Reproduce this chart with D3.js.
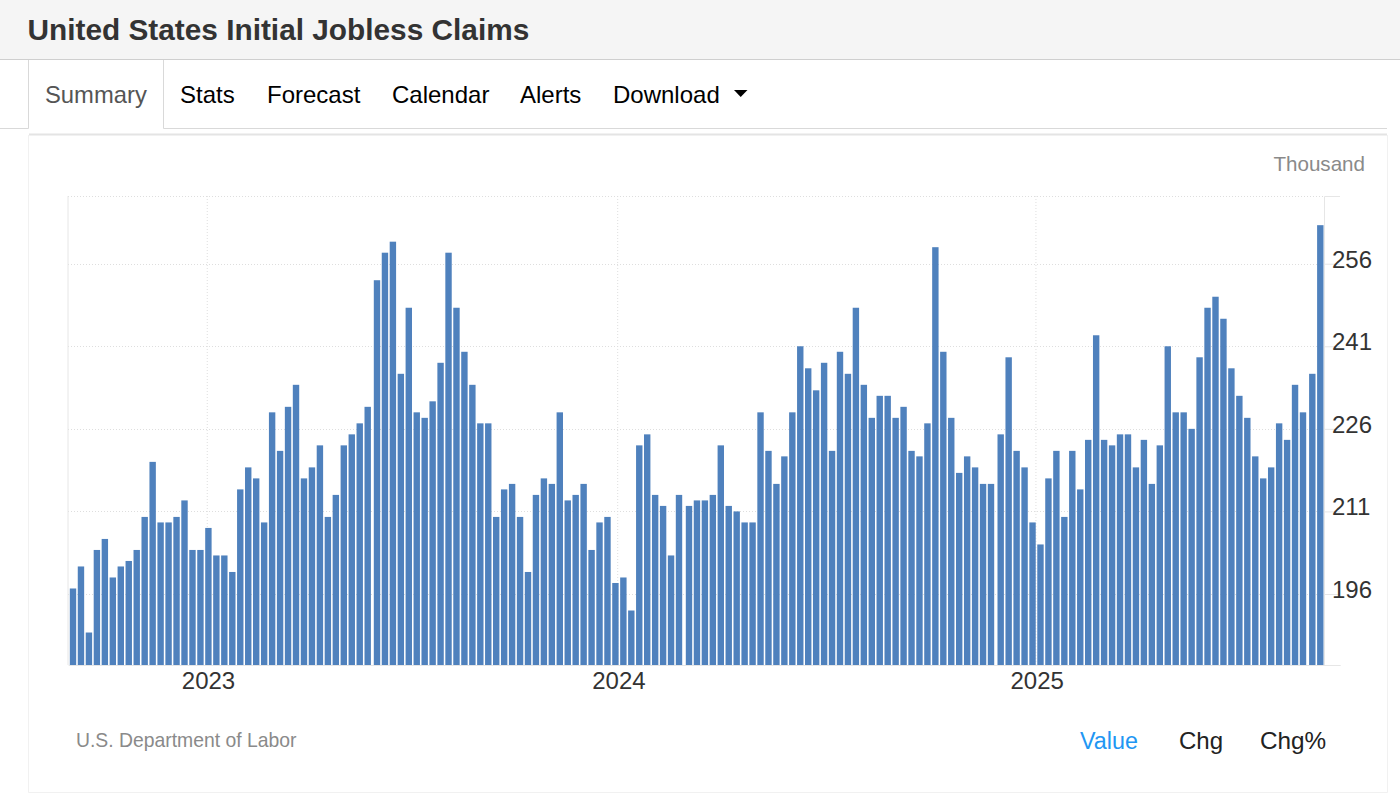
<!DOCTYPE html>
<html lang="en">
  <head>
    <meta charset="UTF-8" />
    <title>United States Initial Jobless Claims</title>
    <style>
      body { margin: 0; background: #fff; }
      svg { display: block; }
      text { font-family: "Liberation Sans", Arial, sans-serif; }
      .grid line { stroke: #dedede; stroke-width: 1; stroke-dasharray: 1 2; }
      .axis text { font-size: 24px; fill: #333; }
      .axis path, .axis line { stroke: #e6e6e6; }
      .tab { font-size: 24px; fill: #000; }
    </style>
  </head>

  <body>

    <script src="https://cdn.jsdelivr.net/npm/d3@7"></script>
    <script>

    // weekly claims in thousands (Sep 2022 - Sep 2025)
    var claims = [
      197, 201, 189, 204, 206, 199, 201, 202, 204, 210, 220, 209, 209, 210, 213, 204,
      204, 208, 203, 203, 200, 215, 219, 217, 209, 229, 222, 230, 234, 217, 219, 223,
      210, 214, 223, 225, 227, 230, 253, 258, 260, 236, 248, 229, 228, 231, 238, 258,
      248, 240, 234, 227, 227, 210, 215, 216, 210, 200, 214, 217, 216, 229, 213, 214,
      216, 204, 209, 210, 198, 199, 193, 223, 225, 214, 212, 203, 214, 212, 213, 213,
      214, 223, 212, 211, 209, 209, 229, 222, 216, 221, 229, 241, 237, 233, 238, 222,
      240, 236, 248, 234, 228, 232, 232, 228, 230, 222, 221, 227, 259, 240, 228, 218,
      221, 219, 216, 216, 225, 239, 222, 219, 209, 205, 217, 222, 210, 222, 215, 224,
      243, 224, 223, 225, 225, 219, 224, 216, 223, 241, 229, 229, 226, 239, 248, 250,
      246, 237, 232, 228, 221, 217, 219, 227, 224, 234, 229, 236, 263
    ];

    // week ending dates, one per bar
    var weeks = d3.utcSaturday.range(new Date(Date.UTC(2022, 8, 10)), new Date(Date.UTC(2025, 8, 7)));

    var yTicks = [196, 211, 226, 241, 256];
    var yearTicks = [new Date(Date.UTC(2023, 0, 6)), new Date(Date.UTC(2024, 0, 1)), new Date(Date.UTC(2024, 11, 31))];
    var yearLabels = ["2023", "2024", "2025"];
    var tabs = ["Stats", "Forecast", "Calendar", "Alerts", "Download"];
    var tabX = [180, 267, 392, 520, 613];
    var switches = ["Value", "Chg", "Chg%"];
    var switchX = [1080, 1179, 1260];
    var switchSize = [23.3, 24, 24.3];

    var w = 1400,
        h = 801;

    var plot = { left: 68, right: 1324, top: 196, bottom: 665 };

    var svg = d3.select("body").append("svg")
      .attr("width", w)
      .attr("height", h);

    // the picture has a slightly wider step every 39 bars, so the scale is piecewise
    var xScale = d3.scaleUtc()
      .domain([weeks[0], weeks[37], weeks[38], weeks[76], weeks[77], weeks[115], weeks[116], weeks[154], weeks[155], weeks[156]])
      .range([73, 367.7, 377, 679, 689, 991, 1000.7, 1303, 1312.3, 1320.3]);

    var yScale = d3.scaleLinear()
      .domain([183.1, 268.3])
      .range([plot.bottom, plot.top]);

    // page header
    svg.append("rect")
      .attr("width", w)
      .attr("height", 59.5)
      .attr("fill", "#f5f5f5");

    svg.append("line")
      .attr("x1", 0).attr("x2", w)
      .attr("y1", 59.5).attr("y2", 59.5)
      .attr("stroke", "#cfcfcf");

    svg.append("text")
      .attr("x", 27.5)
      .attr("y", 40)
      .attr("font-size", 29.8)
      .attr("font-weight", "bold")
      .attr("fill", "#333")
      .text("United States Initial Jobless Claims");

    // tab strip
    svg.append("path")
      .attr("d", "M0,128.5H28.5V60M163.5,60V128.5H1387")
      .attr("fill", "none")
      .attr("stroke", "#d9d9d9");

    svg.append("text")
      .attr("class", "tab")
      .attr("x", 45)
      .attr("y", 103)
      .style("font-size", "23.8px")
      .style("fill", "#555")
      .text("Summary");

    svg.selectAll(".tabs")
      .data(tabs)
      .enter()
      .append("text")
      .attr("class", "tab tabs")
      .attr("x", function(d, i) { return tabX[i]; })
      .attr("y", 103)
      .text(function(d) { return d; });

    svg.append("path")
      .attr("d", "M734,90H747.5L740.7,97Z")
      .attr("fill", "#000");

    // card
    svg.append("path")
      .attr("d", "M28.5,135V792.5H1387.5V135")
      .attr("fill", "none")
      .attr("stroke", "#f1f1f1");

    svg.append("line")
      .attr("x1", 29).attr("x2", 1387)
      .attr("y1", 134.5).attr("y2", 134.5)
      .attr("stroke", "#e4e4e4")
      .attr("stroke-width", 2);

    svg.append("text")
      .attr("x", 1365)
      .attr("y", 171)
      .attr("text-anchor", "end")
      .attr("font-size", 20.6)
      .attr("fill", "#8a8a8a")
      .text("Thousand");

    // grid
    svg.append("g")
      .attr("class", "grid")
      .selectAll("line")
      .data(yTicks.concat(yScale.domain()[1]))
      .enter()
      .append("line")
      .attr("x1", plot.left)
      .attr("x2", function(d) { return d == yScale.domain()[1] ? 1340 : plot.right; })
      .attr("y1", function(d) { return Math.round(yScale(d)) + 0.5; })
      .attr("y2", function(d) { return Math.round(yScale(d)) + 0.5; });

    svg.append("g")
      .attr("class", "grid")
      .selectAll("line")
      .data(yearTicks)
      .enter()
      .append("line")
      .attr("x1", function(d) { return xScale(d); })
      .attr("x2", function(d) { return xScale(d); })
      .attr("y1", plot.top)
      .attr("y2", plot.bottom);

    // bars
    svg.append("g")
      .selectAll("rect")
      .data(claims)
      .enter()
      .append("rect")
      .attr("x", function(d, i) { return xScale(weeks[i]) - 3.2; })
      .attr("y", function(d) { return yScale(d); })
      .attr("width", 6.4)
      .attr("height", function(d) { return plot.bottom - yScale(d); })
      .attr("fill", "#4f81bd");

    // axes
    var xAxis = d3.axisBottom()
      .scale(xScale)
      .tickValues(yearTicks)
      .tickSize(0)
      .tickPadding(7)
      .tickFormat(function(d, i) { return yearLabels[i]; });

    var yAxis = d3.axisRight()
      .scale(yScale)
      .tickValues(yTicks)
      .tickSize(16)
      .tickPadding(-8)
      .tickFormat(d3.format("d"));

    svg.append("g")
      .attr("class", "axis xaxis")
      .attr("transform", "translate(0.7," + plot.bottom + ")")
      .call(xAxis);

    var yG = svg.append("g")
      .attr("class", "axis yaxis")
      .attr("transform", "translate(" + plot.right + ",0)")
      .call(yAxis);

    yG.selectAll("text")
      .attr("dy", "0.14em");

    svg.selectAll(".xaxis path")
      .attr("d", "M" + plot.left + ",0.5H1340");

    svg.append("line")
      .attr("x1", plot.left).attr("x2", plot.left)
      .attr("y1", plot.top).attr("y2", plot.bottom)
      .attr("stroke", "#e6e6e6");

    // footer
    svg.append("text")
      .attr("x", 76)
      .attr("y", 747)
      .attr("font-size", 19.35)
      .attr("fill", "#8a8a8a")
      .text("U.S. Department of Labor");

    svg.selectAll(".switch")
      .data(switches)
      .enter()
      .append("text")
      .attr("class", "switch")
      .attr("x", function(d, i) { return switchX[i]; })
      .attr("y", 749)
      .attr("font-size", function(d, i) { return switchSize[i]; })
      .attr("fill", function(d, i) { return i == 0 ? "#2196f3" : "#222"; })
      .text(function(d) { return d; });

    </script>
  </body>
</html>
